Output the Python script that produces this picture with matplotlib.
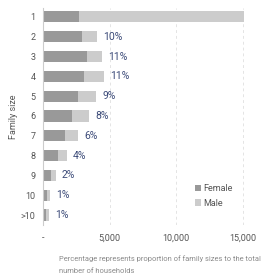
import matplotlib.pyplot as plt
import numpy as np

plt.rcParams['font.family'] = ['Roboto', 'DejaVu Sans']

# Data
sizes = ['1', '2', '3', '4', '5', '6', '7', '8', '9', '10', '>10']
female = [2700, 2900, 3280, 3060, 2610, 2160, 1670, 1120, 570, 300, 250]
male = [12400, 1130, 1150, 1520, 1370, 1300, 990, 690, 400, 220, 200]
pct_labels = ['', '10%', '11%', '11%', '9%', '8%', '6%', '4%', '2%', '1%', '1%']

fig = plt.figure(figsize=(2.72, 2.74), dpi=100)
ax = fig.add_axes([0.158, 0.179, 0.76, 0.792])

y = np.arange(len(sizes))
ax.barh(y, female, height=0.56, color='#999999', label='Female')
ax.barh(y, male, left=female, height=0.56, color='#cccccc', label='Male')

totals = np.array(female) + np.array(male)
for yi, t, lab in zip(y, totals, pct_labels):
    if lab:
        ax.text(t + 450, yi, lab, va='center', ha='left', fontsize=7.5, color='#3b4a78')

ax.set_xlim(0, 15500)
ax.set_ylim(10.5, -0.45)
ax.set_yticks(y)
ax.set_yticklabels(sizes)
ax.set_xticks([0, 5000, 10000, 15000])
ax.set_xticklabels(['-', '5,000', '10,000', '15,000'])
ax.tick_params(axis='both', length=0, labelsize=6.5, colors='#555555')
ax.tick_params(axis='y', pad=5.5)
ax.tick_params(axis='x', pad=6)

for s in ['top', 'right', 'bottom']:
    ax.spines[s].set_visible(False)
ax.spines['left'].set_color('#cccccc')
ax.spines['left'].set_linewidth(0.8)

ax.xaxis.grid(True, linestyle=(0, (3, 3)), color='#e4e4e4', linewidth=0.7)
ax.set_axisbelow(True)

ax.set_ylabel('Family size', fontsize=6.5, color='#555555', labelpad=1.5)

ax.legend(loc='center left', bbox_to_anchor=(0.735, 0.134), frameon=False, fontsize=6.5,
          handlelength=0.7, handleheight=0.7, handletextpad=0.2, labelspacing=0.6,
          labelcolor='#555555', borderpad=0, borderaxespad=0)

fig.text(59 / 272, 1 - 259 / 274, 'Percentage represents proportion of family sizes to the total',
         fontsize=5.45, color='#8a8a8a', ha='left', va='center')
fig.text(59 / 272, 1 - 271 / 274, 'number of households',
         fontsize=5.45, color='#8a8a8a', ha='left', va='center')

fig.savefig('out.png', dpi=100)
